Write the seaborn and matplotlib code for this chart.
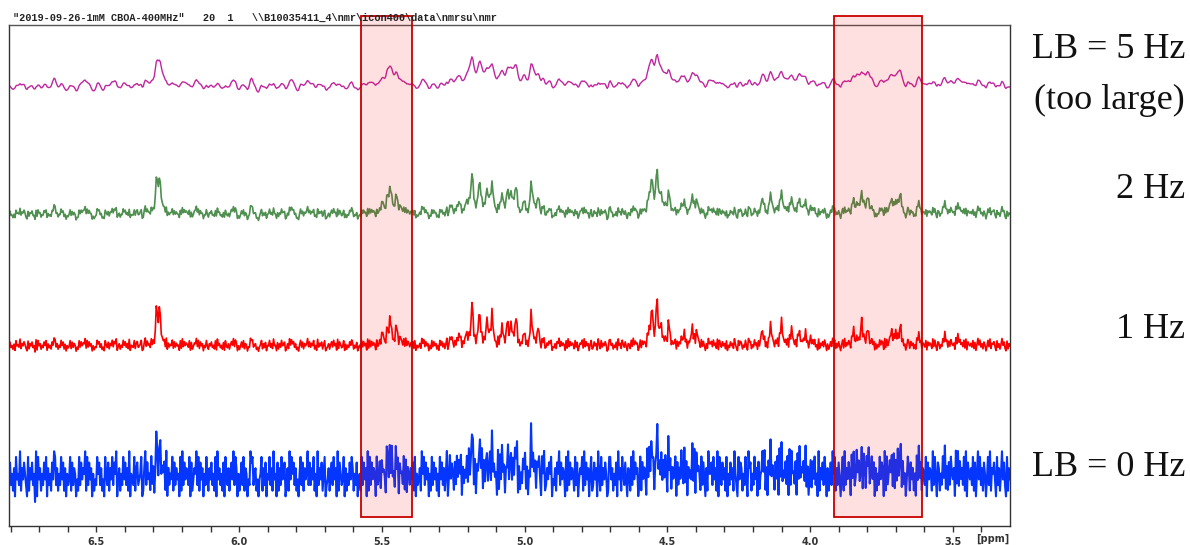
import numpy as np
import pandas as pd
import matplotlib
matplotlib.use("Agg")
import matplotlib.pyplot as plt
from matplotlib.patches import Rectangle
import seaborn as sns

# Spectrometer / window
SPECTROMETER_MHZ = 400.0
PPM_LEFT, PPM_RIGHT = 6.806, 3.30
INTRINSIC_WIDTH_HZ = 2.0

# Resonances (ppm) and their heights in the LB = 1 Hz trace
PEAK_PPM = [6.289, 6.279, 5.498, 5.482, 5.471, 5.449, 5.435, 5.414, 5.257, 5.229,
            5.205, 5.184, 5.159, 5.131, 5.114, 5.079, 5.061, 5.047, 5.030, 5.002,
            4.977, 4.953, 4.565, 4.554, 4.537, 4.523, 4.495, 4.442, 4.414, 4.397,
            4.170, 4.138, 4.100, 4.065, 4.040, 4.016, 3.998, 3.848, 3.820, 3.799,
            3.715, 3.701, 3.684, 3.621, 3.526, 3.481]
PEAK_HEIGHT = [35, 37, 15, 10, 29, 19, 7, 5, 8, 10,
               13, 41, 33, 29, 32, 17, 24, 21, 26, 10,
               29, 18, 10, 38, 45, 21, 22, 12, 18, 13,
               15, 19, 26, 17, 12, 11, 8, 17, 28, 14,
               14, 15, 17, 8, 10, 8]

# Acquisition noise of the raw spectrum, one digit per point (centred on 4.5)
BASELINE_NOISE = (
    "47352618453926475318264735091846253748163527498362"
    "53847261534827365142837465928374615243857362418537"
    "26483759146253847362915438267345812693745283614752"
    "38465729163548273645182937465381724659382746153842"
    "64735281946352718436257493861524738265143978356241"
    "45826371548362945172638457136294857362415837264593"
    "73648251936472581346257384619275348162537486253714"
    "52837461928374651834726354187362945283716453827165"
    "36472815346295837461528374625184736259148365273846"
    "48163527394658271643859273641582736451928374615283"
    "65274839162537482615394857263741859236475814362759"
    "37465182937465283714658293746158237461952836475128"
    "84625371946285374165283947561382746519384726153846"
    "26374851937264581736495283716452839174652837416295"
    "57384629185374628153746295318476253841967253846172"
    "43859261748365274819362547381926453718294657382614"
    "62748351926473851624739582637415829364751836249573"
    "35186274935847162538476192835746281539468273514862"
    "74625183947265381746529384176253849162738546193827"
    "46382917546382715948362751483926574183625947318264"
)

# Processed traces, top to bottom
TRACE_LB_HZ = [5, 2, 1, 0]
TRACE_COLORS = ["#c0269f", "#4f8f4f", "#ff0000", "#0536ff"]
TRACE_BASELINE = [441, 313, 181, 51]
TRACE_PEAK_SCALE = [0.5, 0.85, 1.0, 1.0]
TRACE_NOISE_RMS = [2.3, 3.0, 3.4, 13.5]
TRACE_LINEWIDTH = [1.0, 1.2, 1.2, 1.5]

# Highlighted regions (ppm)
REGIONS_PPM = [(5.572, 5.393), (3.918, 3.607)]

HEADER = '"2019-09-26-1mM CBOA-400MHz"   20  1   \\\\B10035411_4\\nmr\\icon400\\data\\nmrsu\\nmr'

raw_noise = np.array([int(c) for c in BASELINE_NOISE], dtype=float) - 4.5
ppm = np.linspace(PPM_LEFT, PPM_RIGHT, raw_noise.size)
step = abs(ppm[1] - ppm[0])


def broaden(values, lb_hz):
    """Convolve with a Lorentzian of FWHM lb_hz (exponential line broadening)."""
    if lb_hz == 0:
        return values.copy()
    half = lb_hz / SPECTROMETER_MHZ / step / 2.0
    k = np.arange(-40, 41)
    kern = 1.0 / (1.0 + (k / half) ** 2)
    kern /= kern.sum()
    return np.convolve(values, kern, mode="same")


def spectrum(lb_hz, scale):
    hwhm = (INTRINSIC_WIDTH_HZ + lb_hz) / SPECTROMETER_MHZ / 2.0
    sig = np.zeros_like(ppm)
    for p, h in zip(PEAK_PPM, PEAK_HEIGHT):
        sig += h * scale / (1.0 + ((ppm - p) / hwhm) ** 2)
    return sig


frames = []
for i, lb in enumerate(TRACE_LB_HZ):
    nz = broaden(raw_noise, lb)
    nz = (nz - nz.mean()) / nz.std() * TRACE_NOISE_RMS[i]
    y = TRACE_BASELINE[i] + spectrum(lb, TRACE_PEAK_SCALE[i]) + nz
    frames.append(pd.DataFrame({"ppm": ppm, "intensity": y, "lb": lb}))
data = pd.concat(frames, ignore_index=True)

sns.set_style("white")
plt.rcParams["font.family"] = ["DejaVu Sans"]

fig = plt.figure(figsize=(11.9, 5.45), dpi=100)
ax = fig.add_axes([9 / 1190, 19 / 545, 1001 / 1190, 501 / 545])

for i, lb in enumerate(TRACE_LB_HZ):
    sns.lineplot(data=data[data["lb"] == lb], x="ppm", y="intensity",
                 color=TRACE_COLORS[i], linewidth=TRACE_LINEWIDTH[i],
                 estimator=None, ax=ax, zorder=2)

for left, right in REGIONS_PPM:
    ax.add_patch(Rectangle((right, 9), left - right, 501, facecolor=(1, 0, 0, 0.12),
                           edgecolor="#c80000", linewidth=1.3, zorder=5, clip_on=False))

ax.set_xlim(PPM_LEFT, PPM_RIGHT)
ax.set_ylim(0, 501)
ax.set_xlabel("")
ax.set_ylabel("")
ax.set_yticks([])
ax.set_xticks([6.5, 6.0, 5.5, 5.0, 4.5, 4.0, 3.5])
ax.set_xticklabels(["6.5", "6.0", "5.5", "5.0", "4.5", "4.0", "3.5"])
ax.set_xticks(np.round(np.arange(3.4, 6.81, 0.1), 1), minor=True)
ax.tick_params(axis="x", which="both", direction="out", length=4, width=1,
               color="#333333", bottom=True, pad=4)
for lab in ax.get_xticklabels():
    lab.set_fontsize(7)
    lab.set_fontweight("bold")
    lab.set_color("#333333")
for side in ["left", "right", "top", "bottom"]:
    ax.spines[side].set_visible(True)
    ax.spines[side].set_color("#333333")
    ax.spines[side].set_linewidth(1.0)
ax.spines["top"].set_color("#555555")

ax.text((993 - 9) / 1001, -(539 - 526) / 501, "[ppm]", transform=ax.transAxes,
        ha="center", va="center", fontsize=7, fontweight="bold", color="#333333")

fig.text(13 / 1190, 1 - 18 / 545, HEADER, family="Liberation Mono", fontweight="bold",
         fontsize=7.4, ha="left", va="center", color="#222222")

labels = [("LB = 5 Hz", 50), ("(too large)", 100), ("2 Hz", 190), ("1 Hz", 330), ("LB = 0 Hz", 467)]
for text, ypx in labels:
    fig.text(1185 / 1190, 1 - ypx / 545, text, family="Liberation Serif", fontsize=26,
             ha="right", va="center", color="#111111")

fig.savefig("out.png", dpi=100)
